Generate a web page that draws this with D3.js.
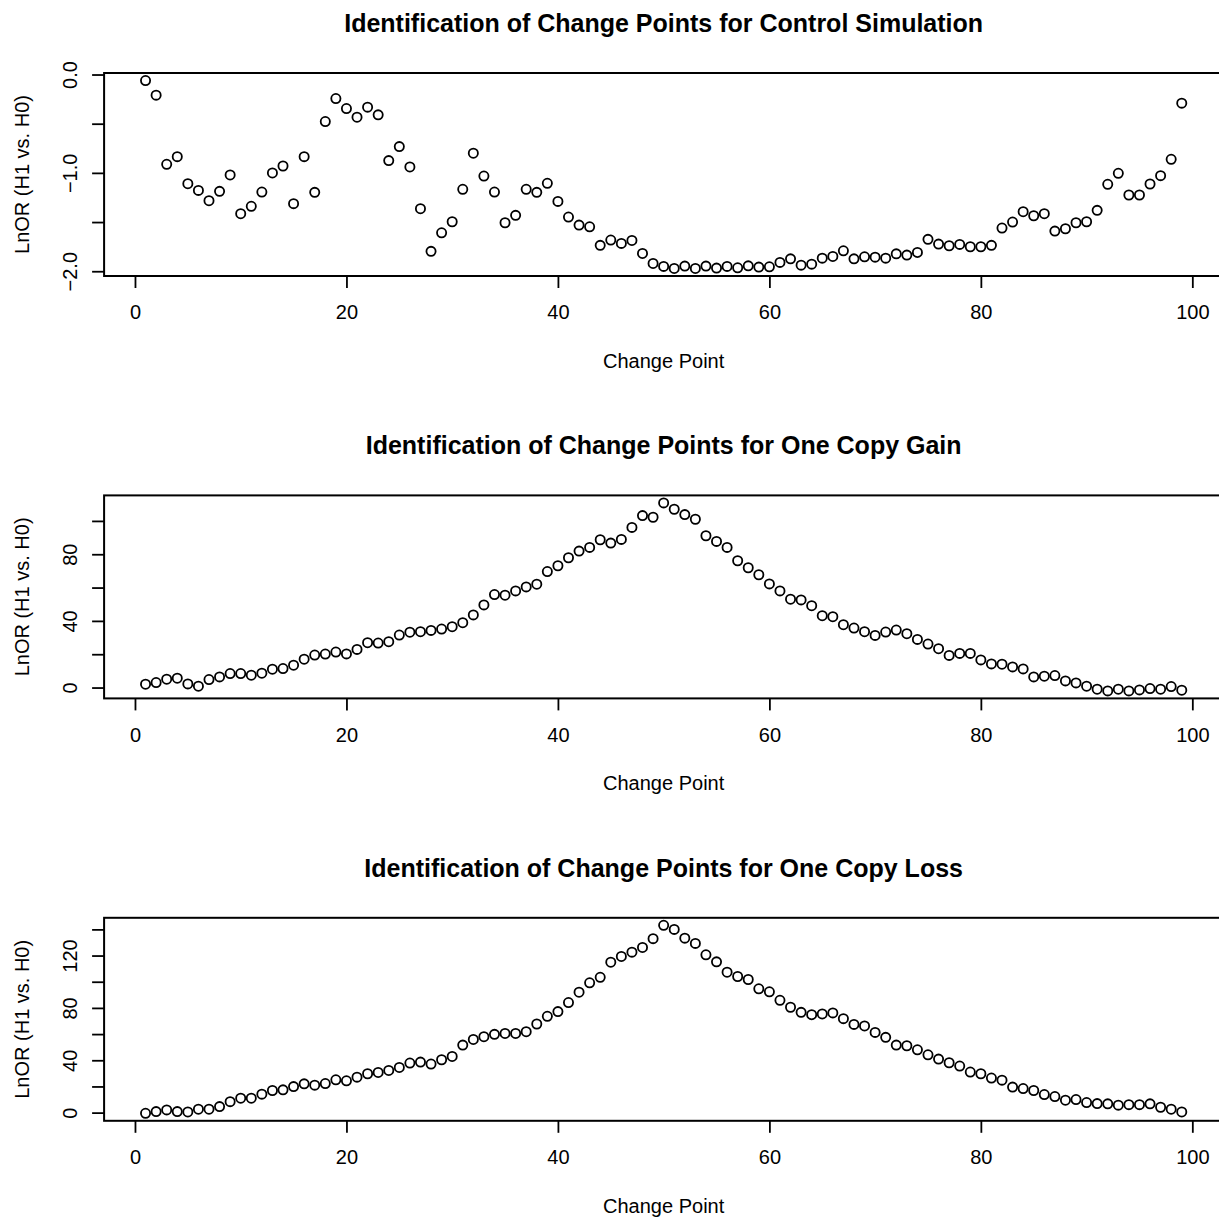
<!DOCTYPE html>
<html>
<head>
<meta charset="utf-8">
<script src="https://cdn.jsdelivr.net/npm/d3@7"></script>
<style>
  body { margin: 0; background: #fff; }
  svg { display: block; font-family: 'Liberation Sans', Arial, sans-serif; }
</style>
</head>
<body>
<div id="chart"></div>
<script>
// Change point index 1..99
const changePoints = d3.range(1, 100)

// LnOR values
const control = [
  -0.061, -0.21, -0.913, -0.835, -1.11, -1.178, -1.283, -1.188, -1.021, -1.415,
  -1.34, -1.195, -1.001, -0.93, -1.313, -0.835, -1.198, -0.478, -0.244, -0.346,
  -0.434, -0.332, -0.41, -0.875, -0.733, -0.94, -1.364, -1.798, -1.609, -1.497,
  -1.167, -0.80, -1.032, -1.195, -1.507, -1.432, -1.167, -1.198, -1.106, -1.29,
  -1.449, -1.531, -1.548, -1.737, -1.683, -1.717, -1.687, -1.819, -1.921, -1.951,
  -1.972, -1.948, -1.972, -1.948, -1.968, -1.951, -1.965, -1.945, -1.958, -1.955,
  -1.91, -1.874, -1.938, -1.928, -1.867, -1.85, -1.792, -1.874, -1.853, -1.857,
  -1.867, -1.823, -1.836, -1.809, -1.676, -1.724, -1.741, -1.727, -1.751, -1.751,
  -1.737, -1.561, -1.50, -1.395, -1.436, -1.415, -1.592, -1.568, -1.507, -1.497,
  -1.381, -1.116, -1.004, -1.225, -1.225, -1.113, -1.028, -0.862, -0.291
]

const gain = [
  2.0, 3.0, 5.0, 5.6, 2.2, 0.8, 4.8, 6.4, 8.4, 8.4,
  7.4, 8.6, 11.0, 11.4, 13.4, 17.0, 19.5, 20.1, 21.3, 20.2,
  22.9, 26.9, 26.7, 27.5, 31.5, 33.2, 33.5, 34.3, 35.1, 36.5,
  38.9, 43.6, 49.6, 55.8, 55.4, 58.0, 60.4, 62.0, 69.6, 73.1,
  77.9, 81.9, 84.1, 88.7, 86.7, 88.9, 96.1, 103.2, 102.2, 110.8,
  107.0, 103.8, 101.0, 91.1, 87.7, 84.1, 76.1, 71.9, 67.7, 62.2,
  58.0, 53.0, 52.6, 49.1, 43.1, 42.5, 37.7, 35.7, 33.5, 31.3,
  33.3, 34.5, 32.3, 28.9, 26.1, 23.3, 19.3, 20.5, 20.5, 16.6,
  14.2, 14.0, 12.4, 11.2, 6.4, 6.8, 7.2, 4.0, 2.8, 0.8,
  -1.0, -2.0, -1.0, -2.0, -1.4, -0.6, -1.0, 0.6, -1.6
]

const loss = [
  -0.5, 0.8, 2.1, 0.8, 0.5, 2.6, 2.6, 4.6, 8.4, 11.0,
  11.0, 14.1, 16.9, 17.4, 19.9, 22.0, 21.0, 22.2, 25.1, 24.3,
  27.1, 29.7, 30.7, 32.2, 34.5, 37.9, 38.6, 37.1, 40.4, 42.9,
  51.6, 55.9, 58.0, 59.8, 60.5, 60.5, 61.8, 67.7, 73.6, 77.2,
  84.1, 92.0, 99.2, 103.4, 114.9, 119.3, 122.6, 126.2, 132.9, 143.1,
  140.0, 133.3, 129.3, 120.6, 115.2, 107.3, 104.0, 101.7, 94.6, 92.3,
  85.8, 80.5, 76.6, 74.8, 75.4, 76.2, 71.8, 67.4, 66.2, 61.3,
  57.5, 51.6, 51.1, 48.0, 44.2, 40.9, 38.1, 35.6, 31.0, 29.7,
  26.4, 24.8, 19.5, 18.4, 16.9, 13.8, 12.3, 9.5, 10.0, 7.7,
  6.9, 6.7, 5.7, 6.1, 6.1, 6.7, 4.1, 2.6, 0.5
]

// tick values, and which of them R was able to label
const xTicks = [0, 20, 40, 60, 80, 100]
const controlTicks = [0, -0.5, -1, -1.5, -2]
const controlLabels = [0, -1, -2]
const gainTicks = [0, 20, 40, 60, 80, 100]
const gainLabels = [0, 40, 80]
const lossTicks = [0, 20, 40, 60, 80, 100, 120, 140]
const lossLabels = [0, 40, 80, 120]

const titles = [
  'Identification of Change Points for Control Simulation',
  'Identification of Change Points for One Copy Gain',
  'Identification of Change Points for One Copy Loss'
]

const panels = [
  { title: titles[0], values: control, ticks: controlTicks, labels: controlLabels, fmt: d3.format('.1f') },
  { title: titles[1], values: gain, ticks: gainTicks, labels: gainLabels, fmt: d3.format('d') },
  { title: titles[2], values: loss, ticks: lossTicks, labels: lossLabels, fmt: d3.format('d') }
]

const width = 1219
const height = 1217
const left = 104.1
const right = 1223.2
const boxHeight = 203
const panelTops = [73, 495.4, 917.8]

const svg = d3
  .select('#chart')
  .append('svg')
  .attr('width', width)
  .attr('height', height)

// R style: extend data range by 4% on each side
function rRange(ext) {
  const pad = (ext[1] - ext[0]) * 0.04
  return [ext[0] - pad, ext[1] + pad]
}

const xScale = d3
  .scaleLinear()
  .domain(rRange(d3.extent(changePoints)))
  .range([left, right])

const minus = s => s.replace('-', '\u2212')

panels.forEach(function(p, i) {
  const top = panelTops[i]
  const bottom = top + boxHeight
  const g = svg.append('g')

  const yScale = d3
    .scaleLinear()
    .domain(rRange(d3.extent(p.values)))
    .range([bottom, top])

  // title
  g.append('text')
    .attr('x', (left + right) / 2)
    .attr('y', top - 41.3)
    .attr('text-anchor', 'middle')
    .style('font-size', '25px')
    .style('font-weight', 'bold')
    .text(p.title)

  // x axis
  const xAxis = d3
    .axisBottom(xScale)
    .tickValues(xTicks)
    .tickSize(12)
    .tickFormat(d3.format('d'))
  const xg = g
    .append('g')
    .attr('transform', 'translate(0,' + bottom + ')')
    .call(xAxis)
  xg.select('.domain').remove()
  xg.selectAll('line').attr('stroke', '#000').attr('stroke-width', 1.8)
  xg.selectAll('text')
    .attr('y', 43.3)
    .attr('dy', 0)
    .attr('fill', '#000')
    .style('font-size', '20px')

  g.append('text')
    .attr('x', (left + right) / 2)
    .attr('y', bottom + 92)
    .attr('text-anchor', 'middle')
    .style('font-size', '20px')
    .text('Change Point')

  // y axis
  const yAxis = d3
    .axisLeft(yScale)
    .tickValues(p.ticks)
    .tickSize(12)
    .tickFormat(d => (p.labels.includes(d) ? minus(p.fmt(d)) : ''))
  const yg = g
    .append('g')
    .attr('transform', 'translate(' + left + ',0)')
    .call(yAxis)
  yg.select('.domain').remove()
  yg.selectAll('line').attr('stroke', '#000').attr('stroke-width', 1.8)
  yg.selectAll('text')
    .attr('x', 0)
    .attr('dy', 0)
    .attr('text-anchor', 'middle')
    .attr('transform', 'translate(-27.4,0) rotate(-90)')
    .attr('fill', '#000')
    .style('font-size', '20px')

  g.append('text')
    .attr('transform', 'translate(28.5,' + (top + bottom) / 2 + ') rotate(-90)')
    .attr('text-anchor', 'middle')
    .style('font-size', '20px')
    .text('LnOR (H1 vs. H0)')

  // points
  g.selectAll('circle')
    .data(p.values)
    .enter()
    .append('circle')
    .attr('cx', (d, j) => xScale(changePoints[j]))
    .attr('cy', d => yScale(d))
    .attr('r', 4.6)
    .attr('fill', 'none')
    .attr('stroke', '#000')
    .attr('stroke-width', 1.8)

  // box
  g.append('rect')
    .attr('x', left)
    .attr('y', top)
    .attr('width', right - left)
    .attr('height', boxHeight)
    .attr('fill', 'none')
    .attr('stroke', '#000')
    .attr('stroke-width', 2)
})
</script>
</body>
</html>
